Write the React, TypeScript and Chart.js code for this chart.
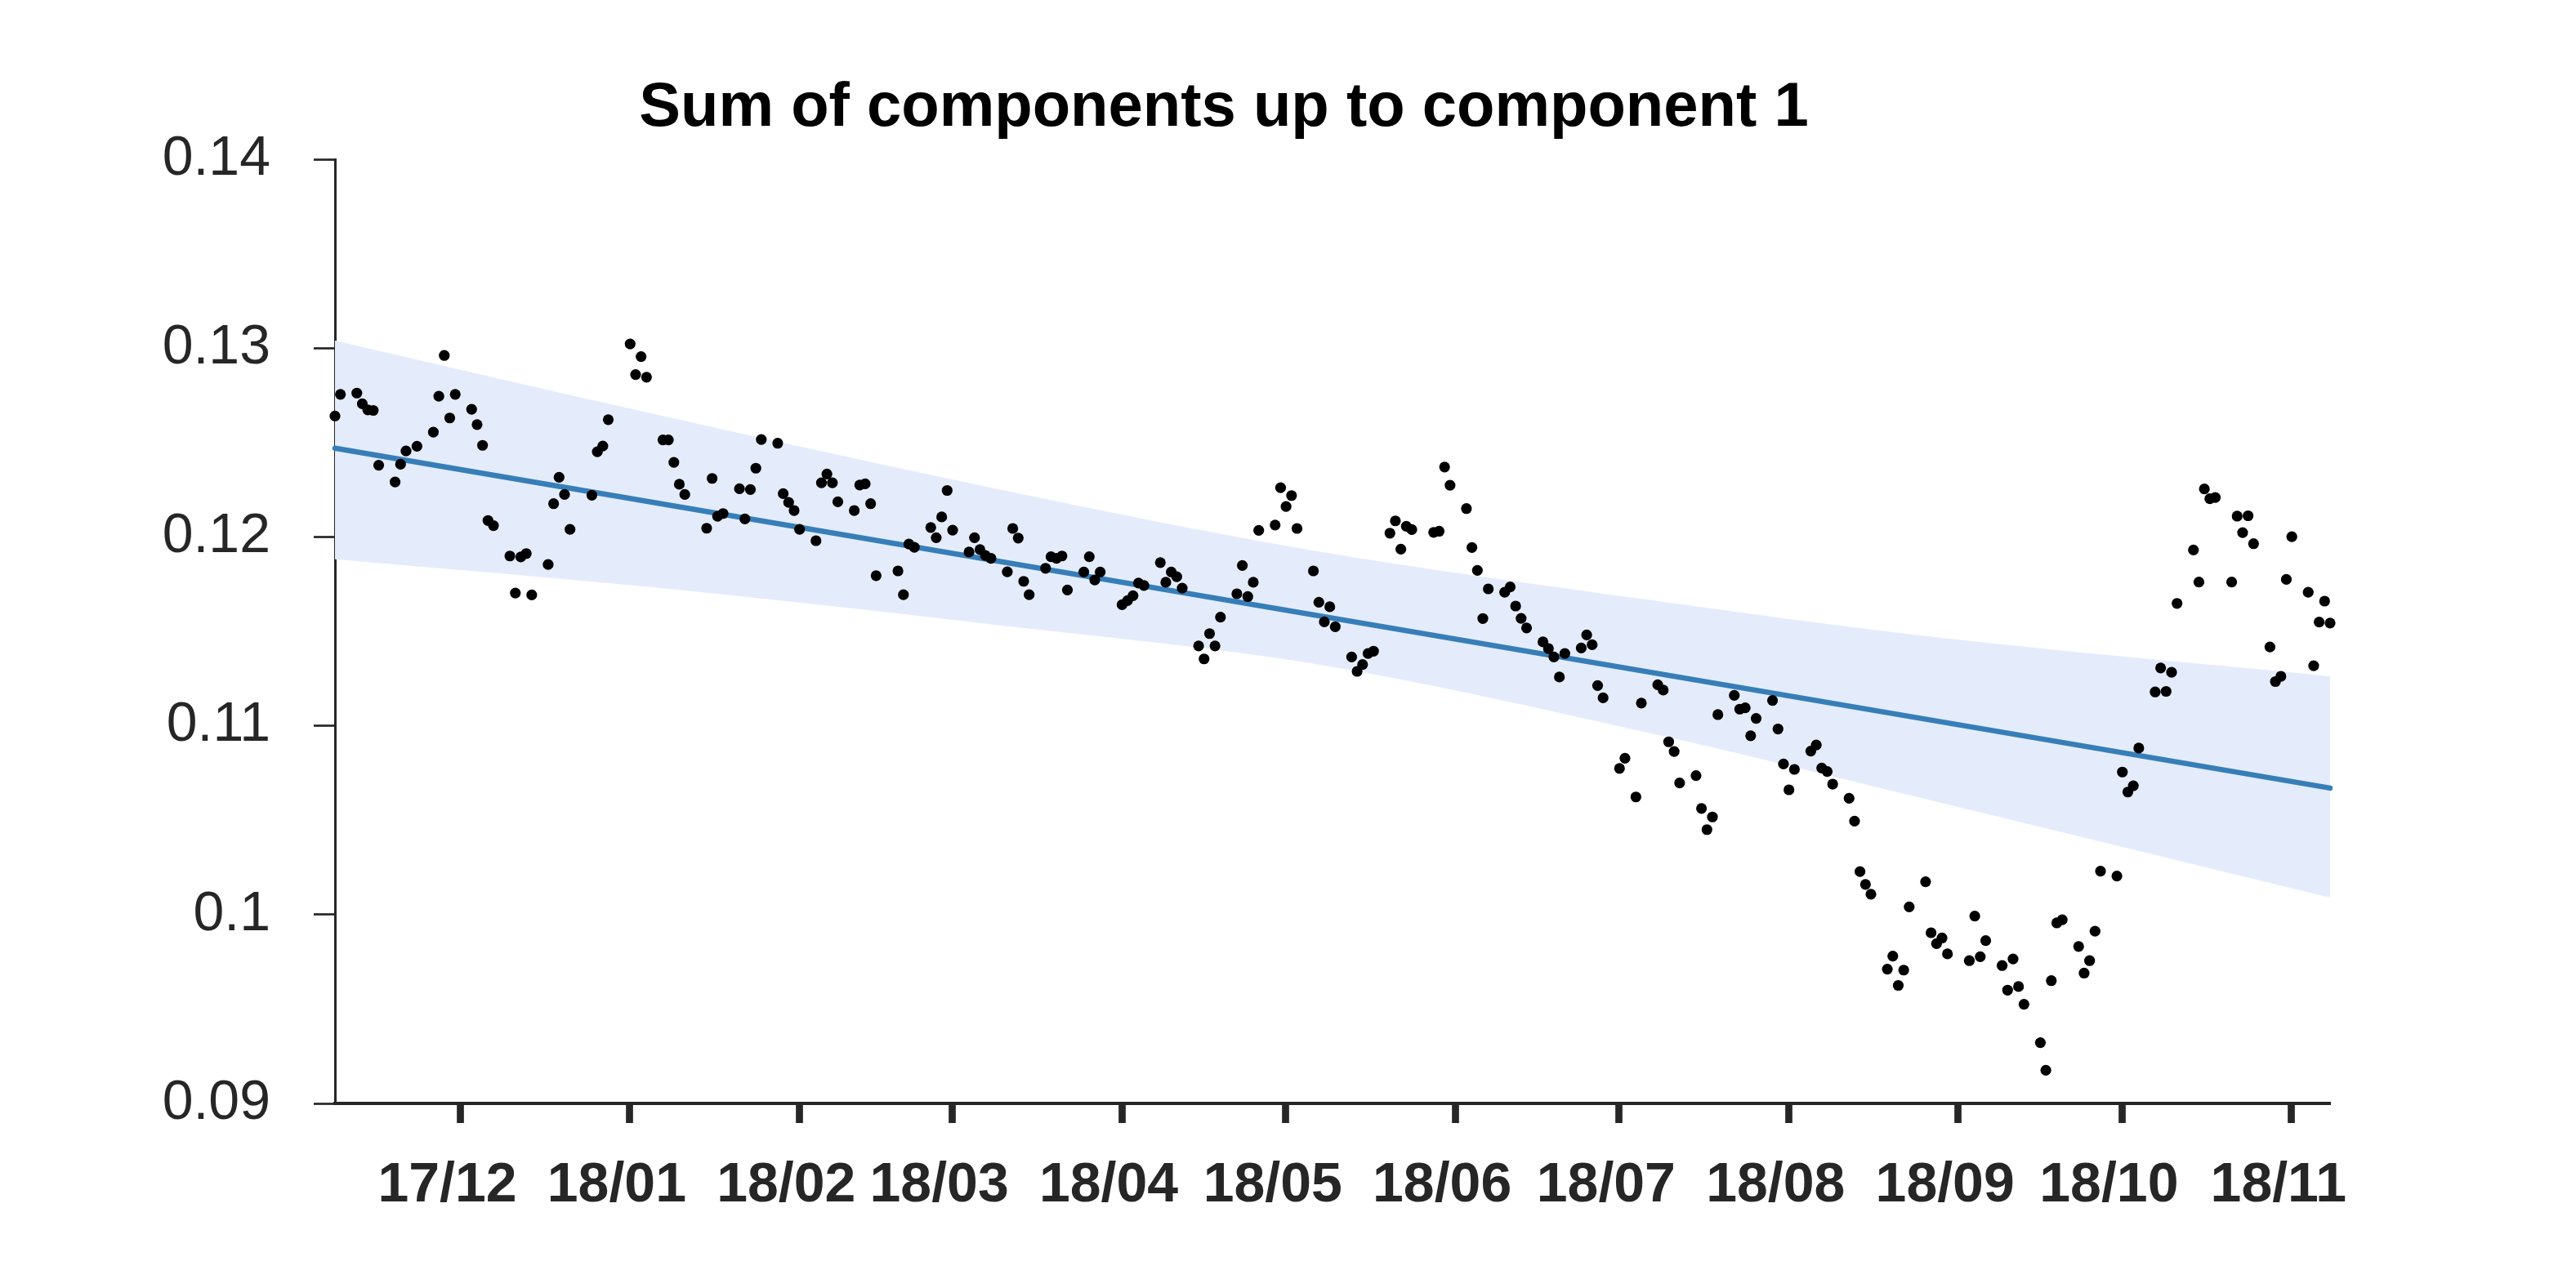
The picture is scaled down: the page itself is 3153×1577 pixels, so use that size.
import React, { useEffect, useRef } from 'react';
import { Chart, registerables } from 'chart.js';

Chart.register(...registerables);

// Trading days counted from Thu 2017-11-09 (day 0)
const tradingDay = [
  0, 1, 4, 5, 6, 7, 8, 11, 12, 13, 15, 18, 19, 20, 21, 22, 25, 26, 27, 28, 29,
  32, 33, 34, 35, 36, 39, 40, 41, 42, 43, 47, 48, 49, 50, 54, 55, 56, 57,
  60, 61, 62, 63, 64, 68, 69, 70, 71, 74, 75, 76, 77, 78, 81, 82, 83, 84, 85,
  88, 89, 90, 91, 92, 95, 96, 97, 98, 99, 103, 104, 105, 106, 109, 110, 111, 112, 113,
  116, 117, 118, 119, 120, 123, 124, 125, 126, 127, 130, 131, 132, 133, 134,
  137, 138, 139, 140, 144, 145, 146, 147, 148, 151, 152, 153, 154, 155,
  158, 159, 160, 161, 162, 165, 166, 167, 168, 169, 172, 173, 174, 175, 176,
  179, 180, 181, 182, 183, 186, 187, 188, 189, 190, 193, 194, 195, 196, 197,
  201, 202, 203, 204, 207, 208, 209, 210, 211, 214, 215, 216, 217, 218,
  221, 222, 223, 224, 225, 228, 229, 230, 231, 232, 235, 236, 238, 239,
  242, 243, 244, 245, 246, 249, 250, 251, 252, 253, 256, 257, 258, 259, 260,
  263, 264, 265, 266, 267, 270, 271, 272, 273, 274, 277, 278, 279, 280, 281,
  284, 285, 286, 287, 288, 291, 292, 293, 294, 295, 299, 300, 301, 302,
  305, 306, 307, 308, 309, 312, 313, 314, 315, 316, 319, 320, 321, 322, 323,
  326, 327, 328, 329, 330, 333, 334, 335, 336, 337, 340, 341, 342, 343, 344,
  347, 348, 349, 350, 351, 354, 355, 356, 357, 358, 361, 362, 363, 364, 365,
];

const componentSum = [
  0.1264, 0.12755, 0.12762, 0.12705, 0.12673, 0.1267, 0.1238, 0.12291, 0.12385, 0.12455, 0.1248,
  0.12555, 0.12745, 0.12961, 0.1263, 0.12755, 0.12676, 0.12595, 0.12485, 0.12087, 0.1206,
  0.11899, 0.11703, 0.11894, 0.11912, 0.11693, 0.11854, 0.12176, 0.12316, 0.12225, 0.1204,
  0.12221, 0.12451, 0.12481, 0.12621, 0.13022, 0.1286, 0.12955, 0.12846,
  0.12514, 0.12514, 0.12395, 0.12279, 0.12225, 0.12046, 0.1231, 0.12109, 0.12124,
  0.12255, 0.12095, 0.12251, 0.12364, 0.12516, 0.12496, 0.12229, 0.12183, 0.1214, 0.1204,
  0.1198, 0.12287, 0.12333, 0.12287, 0.12186, 0.1214, 0.12275, 0.12281, 0.12176, 0.11795,
  0.1182, 0.11694, 0.11962, 0.11945, 0.1205, 0.11996, 0.12106, 0.12246, 0.12036,
  0.1192, 0.11996, 0.11933, 0.11902, 0.11887, 0.11815, 0.12045, 0.11994, 0.11765, 0.11694,
  0.11834, 0.11895, 0.11887, 0.11899, 0.11719, 0.11814, 0.11895, 0.11772, 0.11814,
  0.11641, 0.11663, 0.11689, 0.11756, 0.11743, 0.11864, 0.1176, 0.11814, 0.11789, 0.11729,
  0.11423, 0.11354, 0.11488, 0.11423, 0.11575, 0.11699, 0.11849, 0.11684, 0.1176, 0.12035,
  0.12063, 0.12261, 0.12161, 0.12219, 0.12045, 0.1182, 0.11654, 0.1155, 0.1163, 0.11524,
  0.11364, 0.11288, 0.11324, 0.11383, 0.11395, 0.1202, 0.12085, 0.11935, 0.12056, 0.12039,
  0.12024, 0.1203, 0.1237, 0.12274, 0.1215, 0.11944, 0.11823, 0.11568, 0.11725,
  0.11707, 0.11735, 0.11634, 0.11569, 0.11518, 0.11444, 0.11409, 0.11364, 0.11258, 0.11383,
  0.11412, 0.11481, 0.11429, 0.11213, 0.11148, 0.10774, 0.10828, 0.10623, 0.1112,
  0.11217, 0.11189, 0.10915, 0.10864, 0.10697, 0.10736, 0.10562, 0.1045, 0.10517, 0.11059,
  0.11161, 0.11088, 0.11095, 0.10947, 0.11039, 0.11134, 0.10983, 0.10798, 0.10661, 0.10769,
  0.10866, 0.10898, 0.10776, 0.10758, 0.10691, 0.10616, 0.10495, 0.10228, 0.1016, 0.10108,
  0.09711, 0.0978, 0.09625, 0.09706, 0.10041, 0.10174, 0.09904, 0.09846, 0.09876, 0.09792,
  0.09756, 0.09992, 0.09777, 0.09862, 0.0973, 0.096, 0.09765, 0.09619, 0.09525,
  0.09322, 0.09176, 0.0965, 0.09956, 0.09973, 0.09831, 0.0969, 0.09756, 0.09912, 0.1023,
  0.10204, 0.10755, 0.10649, 0.10682, 0.10882, 0.11179, 0.11306, 0.11182, 0.11283, 0.11648,
  0.11931, 0.11761, 0.12254, 0.12202, 0.12209, 0.11761, 0.1211, 0.12023, 0.12112, 0.11964,
  0.11417, 0.11234, 0.11262, 0.11775, 0.12001, 0.11707, 0.11318, 0.11549, 0.1166, 0.11544,
];

// Linear trend (end points)
const fitDays = [0, 365];
const fitValues = [0.1247, 0.1067];

// Confidence band edges
const bandDays = [0, 58.5, 121, 178, 241, 290, 365];
const bandUpper = [0.1304, 0.1265, 0.12255, 0.11933, 0.11664, 0.11478, 0.11262];
const bandLower = [0.11882, 0.11732, 0.11534, 0.11333, 0.10958, 0.10619, 0.1009];

// Axis ticks
const monthStartDay = [22, 53, 84, 112, 143, 173, 204, 234, 265, 296, 326, 357];
const monthLabels = ['17/12', '18/01', '18/02', '18/03', '18/04', '18/05', '18/06', '18/07', '18/08', '18/09', '18/10', '18/11'];
const yTicks = [0.09, 0.1, 0.11, 0.12, 0.13, 0.14];
const titleText = 'Sum of components up to component 1';

const TICK_SHIFT = 0.94;
const AXIS_COLOR = '#262626';
const FONT = '"Liberation Sans", Arial, Helvetica, sans-serif';

const titlePlugin = {
  id: 'customTitle',
  afterDraw(chart: any) {
    const ctx = chart.ctx;
    ctx.save();
    ctx.font = `bold 76px ${FONT}`;
    ctx.fillStyle = '#000000';
    ctx.textAlign = 'center';
    ctx.textBaseline = 'alphabetic';
    ctx.fillText(titleText, 1498, 154);
    ctx.restore();
  },
};

export default function App() {
  const ref = useRef<HTMLCanvasElement>(null);

  useEffect(() => {
    document.body.style.margin = '0';
    const points = tradingDay.map((d, i) => ({ x: d, y: componentSum[i] }));
    const fit = fitDays.map((d, i) => ({ x: d, y: fitValues[i] }));
    const upper = bandDays.map((d, i) => ({ x: d, y: bandUpper[i] }));
    const lower = bandDays.map((d, i) => ({ x: d, y: bandLower[i] }));

    const chart = new Chart(ref.current as HTMLCanvasElement, {
      type: 'scatter',
      data: {
        datasets: [
          {
            label: 'data',
            data: points,
            order: 0,
            pointRadius: 6.6,
            pointBackgroundColor: '#000000',
            pointBorderColor: '#000000',
            pointBorderWidth: 0,
            showLine: false,
            clip: false,
          } as any,
          {
            type: 'line',
            label: 'fit',
            data: fit,
            order: 1,
            borderColor: '#377eb8',
            borderWidth: 6.5,
            borderCapStyle: 'round',
            pointRadius: 0,
            fill: false,
            clip: false,
          } as any,
          {
            type: 'line',
            label: 'upper',
            data: upper,
            order: 2,
            borderColor: 'rgba(0,0,0,0)',
            borderWidth: 0,
            pointRadius: 0,
            backgroundColor: '#e4ecfc',
            cubicInterpolationMode: 'monotone',
            fill: '+1',
          } as any,
          {
            type: 'line',
            label: 'lower',
            data: lower,
            order: 3,
            borderColor: 'rgba(0,0,0,0)',
            borderWidth: 0,
            pointRadius: 0,
            cubicInterpolationMode: 'monotone',
            fill: false,
          } as any,
        ],
      },
      options: {
        animation: false,
        responsive: false,
        maintainAspectRatio: false,
        devicePixelRatio: 1,
        events: [],
        layout: { padding: { top: 195, right: 301, bottom: 0, left: 0 } },
        plugins: {
          legend: { display: false },
          tooltip: { enabled: false },
          title: { display: false },
        },
        scales: {
          x: {
            type: 'linear',
            min: 0,
            max: 365,
            afterBuildTicks: (scale: any) => {
              scale.ticks = monthStartDay.map((d) => ({ value: d + TICK_SHIFT }));
            },
            afterFit: (scale: any) => {
              scale.height = 226;
            },
            ticks: {
              autoSkip: false,
              maxRotation: 0,
              minRotation: 0,
              labelOffset: -16,
              padding: 36,
              color: AXIS_COLOR,
              font: { family: FONT, size: 68, weight: 'bold' },
              callback: (v: any) => {
                const i = monthStartDay.findIndex((d) => Math.abs(d + TICK_SHIFT - Number(v)) < 1e-6);
                return i >= 0 ? monthLabels[i] : '';
              },
            },
            grid: {
              display: true,
              drawOnChartArea: false,
              drawTicks: true,
              tickLength: 24,
              tickWidth: 8.7,
              tickColor: AXIS_COLOR,
              color: AXIS_COLOR,
            },
            border: { display: true, color: AXIS_COLOR, width: 4 },
          } as any,
          y: {
            type: 'linear',
            min: 0.09,
            max: 0.14,
            afterBuildTicks: (scale: any) => {
              scale.ticks = yTicks.map((v) => ({ value: v }));
            },
            afterFit: (scale: any) => {
              scale.width = 410;
            },
            ticks: {
              padding: 53,
              color: AXIS_COLOR,
              font: { family: FONT, size: 68 },
              callback: (v: any) => String(Number(Number(v).toFixed(2))),
            },
            grid: {
              display: true,
              drawOnChartArea: false,
              drawTicks: true,
              tickLength: 26,
              tickWidth: 2.7,
              tickColor: AXIS_COLOR,
              color: AXIS_COLOR,
            },
            border: { display: true, color: AXIS_COLOR, width: 3 },
          } as any,
        },
      },
      plugins: [titlePlugin],
    } as any);

    return () => chart.destroy();
  }, []);

  return (
    <div style={{ position: 'fixed', left: 0, top: 0, width: 3153, height: 1577, background: '#ffffff' }}>
      <canvas ref={ref} width={3153} height={1577} style={{ width: 3153, height: 1577, display: 'block' }} />
    </div>
  );
}
